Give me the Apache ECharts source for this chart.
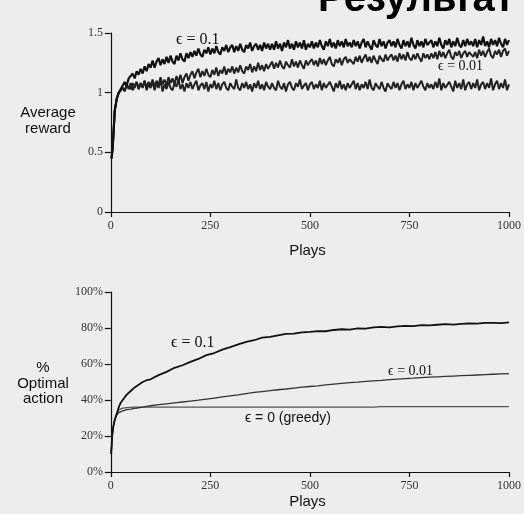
<!DOCTYPE html>
<html>
<head>
<meta charset="utf-8">
<script src="https://cdn.jsdelivr.net/npm/echarts@6/dist/echarts.min.js"></script>
<style>html,body{margin:0;padding:0;background:#ededed;}#c{width:524px;height:514px;}</style>
</head>
<body>
<div id="c"></div>
<script>
// ---------- DATA ----------
// Top panel: average reward vs plays (plays 2, then 5..1000 step 5)
const rewardPlays = [2];
for (let p = 5; p <= 1000; p += 5) rewardPlays.push(p);

const rewardGreedy = [0.45,
0.55,0.85,0.95,1.00,1.02,1.04,1.01,1.07,1.03,1.08,1.02,1.06,1.09,1.03,1.08,1.04,1.10,1.02,1.07,1.04,
1.09,1.02,1.08,1.04,1.11,1.01,1.07,1.03,1.09,1.04,1.02,1.08,1.05,1.11,1.03,1.07,1.01,1.08,1.04,1.09,
1.03,1.07,1.10,1.02,1.06,1.08,1.03,1.09,1.01,1.07,1.04,1.10,1.03,1.08,1.02,1.07,1.09,1.04,1.02,1.08,
1.05,1.03,1.11,1.04,1.02,1.08,1.04,1.09,1.03,1.07,1.01,1.08,1.04,1.10,1.03,1.07,1.02,1.09,1.05,1.03,
1.08,1.04,1.02,1.10,1.05,1.03,1.08,1.01,1.07,1.09,1.04,1.02,1.08,1.05,1.11,1.03,1.06,1.08,1.02,1.07,
1.09,1.03,1.07,1.04,1.10,1.02,1.08,1.04,1.03,1.09,1.05,1.01,1.08,1.04,1.10,1.03,1.07,1.02,1.08,1.04,
1.05,1.10,1.03,1.08,1.02,1.07,1.04,1.09,1.03,1.11,1.04,1.02,1.08,1.05,1.03,1.09,1.04,1.01,1.08,1.05,
1.03,1.09,1.04,1.08,1.02,1.07,1.10,1.03,1.07,1.04,1.09,1.02,1.08,1.04,1.03,1.10,1.05,1.02,1.08,1.04,
1.07,1.03,1.09,1.04,1.12,1.02,1.08,1.04,1.03,1.09,1.05,1.01,1.10,1.04,1.08,1.03,1.11,1.02,1.07,1.09,
1.03,1.08,1.04,1.11,1.02,1.07,1.09,1.03,1.08,1.04,1.12,1.02,1.07,1.10,1.03,1.08,1.04,1.11,1.02,1.07];

const rewardEps001 = [0.45,
0.55,0.85,0.95,1.00,1.02,1.04,1.02,1.06,1.05,1.03,1.08,1.04,1.09,1.03,1.08,1.05,1.10,1.04,1.09,1.06,
1.11,1.05,1.10,1.06,1.13,1.07,1.11,1.06,1.13,1.08,1.12,1.07,1.14,1.09,1.15,1.08,1.13,1.16,1.10,1.15,
1.18,1.12,1.17,1.20,1.13,1.18,1.14,1.20,1.15,1.13,1.19,1.15,1.21,1.14,1.19,1.16,1.22,1.15,1.20,1.17,
1.22,1.16,1.21,1.17,1.23,1.18,1.16,1.22,1.19,1.24,1.17,1.22,1.18,1.25,1.19,1.23,1.18,1.24,1.20,1.23,
1.26,1.20,1.25,1.21,1.27,1.22,1.20,1.26,1.23,1.21,1.28,1.22,1.26,1.21,1.27,1.23,1.20,1.27,1.23,1.26,
1.28,1.23,1.27,1.22,1.29,1.24,1.28,1.23,1.27,1.30,1.24,1.22,1.28,1.25,1.29,1.23,1.28,1.30,1.25,1.28,
1.29,1.24,1.30,1.26,1.31,1.25,1.29,1.32,1.26,1.30,1.25,1.31,1.27,1.24,1.31,1.28,1.26,1.32,1.27,1.30,
1.32,1.27,1.31,1.26,1.33,1.28,1.32,1.27,1.34,1.29,1.27,1.32,1.28,1.33,1.29,1.26,1.33,1.29,1.32,1.28,
1.33,1.29,1.34,1.28,1.35,1.30,1.34,1.29,1.33,1.36,1.30,1.28,1.34,1.31,1.35,1.29,1.33,1.35,1.30,1.34,
1.35,1.30,1.34,1.29,1.36,1.31,1.35,1.30,1.34,1.37,1.31,1.29,1.35,1.32,1.36,1.30,1.35,1.37,1.31,1.35];

const rewardEps01 = [0.45,
0.55,0.85,0.95,1.00,1.03,1.06,1.09,1.06,1.12,1.11,1.16,1.12,1.18,1.15,1.20,1.16,1.22,1.18,1.24,1.21,
1.27,1.21,1.26,1.29,1.23,1.28,1.24,1.30,1.25,1.31,1.26,1.24,1.31,1.27,1.33,1.28,1.26,1.33,1.29,1.34,
1.30,1.35,1.31,1.37,1.32,1.30,1.36,1.33,1.38,1.32,1.37,1.33,1.39,1.34,1.32,1.38,1.35,1.40,1.34,1.38,
1.40,1.34,1.39,1.35,1.41,1.36,1.34,1.40,1.37,1.42,1.35,1.39,1.41,1.36,1.40,1.35,1.42,1.37,1.41,1.36,
1.41,1.36,1.43,1.37,1.41,1.35,1.42,1.38,1.44,1.37,1.41,1.36,1.43,1.38,1.42,1.37,1.44,1.36,1.41,1.38,
1.43,1.37,1.42,1.38,1.44,1.39,1.36,1.43,1.39,1.45,1.38,1.42,1.37,1.44,1.39,1.43,1.38,1.45,1.39,1.42,
1.38,1.44,1.39,1.43,1.37,1.42,1.45,1.38,1.43,1.39,1.36,1.44,1.40,1.38,1.45,1.39,1.43,1.37,1.42,1.44,
1.39,1.43,1.38,1.45,1.40,1.37,1.44,1.39,1.43,1.38,1.46,1.40,1.37,1.44,1.39,1.43,1.38,1.45,1.40,1.39,
1.44,1.38,1.43,1.39,1.46,1.40,1.37,1.44,1.40,1.45,1.38,1.43,1.39,1.46,1.40,1.38,1.44,1.39,1.45,1.40,
1.43,1.39,1.45,1.38,1.44,1.40,1.47,1.39,1.43,1.38,1.45,1.40,1.44,1.39,1.46,1.41,1.38,1.45,1.40,1.44];

// Bottom panel: % optimal action vs plays
const optPlays = [1,2,3,4,5,7,10,13,16,20,25,30,35,40,50,60,70,80,90,100,
120,140,160,180,200,220,240,260,280,300,320,340,360,380,400,420,440,460,480,500,
520,540,560,580,600,620,640,660,680,700,720,740,760,780,800,820,840,860,880,900,
920,940,960,980,1000];

const optEps01 = [10,14,18,21,23,26,29,31,33,36,38.5,40,41.5,43,45,47,48.5,50,51,51.5,
53.8,55.6,57.9,59.3,61.2,62.8,64.9,66.1,68.0,69.4,70.9,72.3,73.2,74.6,75.1,75.9,76.7,76.9,77.6,77.8,
78.3,78.2,78.9,79.3,79.1,79.8,79.7,80.3,80.6,80.4,80.9,81.2,81.0,81.6,81.5,81.8,82.1,81.9,82.3,82.5,
82.4,82.8,82.9,82.7,83.1];

const optEps001 = [10,14,18,21,23,26,29,31,32,33,33.5,34,34.3,34.6,34.9,35.3,35.7,36.1,36.5,36.8,
37.4,37.9,38.4,38.9,39.4,39.9,40.5,41.1,41.7,42.3,42.9,43.6,44.2,44.7,45.2,45.7,46.1,46.6,47.1,47.5,
47.9,48.4,48.8,49.2,49.6,49.9,50.3,50.6,50.9,51.3,51.6,51.9,52.1,52.4,52.7,52.9,53.1,53.3,53.5,53.7,
53.9,54.1,54.3,54.5,54.7];

const optGreedy = [10,14,18,21,23,26,29,31,33,34.5,35.2,35.5,35.7,35.8,35.9,36,36,36,36,36,
36,36,36,36,36,36,36,36,36,36,36,36,36,36,36,36,36,36,36,36,
36,36,36,36,36,36,36,36,36.3,36.3,36.3,36.3,36.3,36.3,36.3,36.3,36.3,36.3,36.3,36.3,
36.3,36.3,36.3,36.3,36.3];

const xTicks = [0, 250, 500, 750, 1000];
const rewardTicks = [0, 0.5, 1, 1.5];
const optTicks = [0, 20, 40, 60, 80, 100];

// ---------- CHART ----------
const pairs = (xs, ys) => xs.map((x, i) => [x, ys[i]]);
const serif = '"Liberation Serif","DejaVu Serif",serif';
const sans = '"Liberation Sans",Arial,sans-serif';

function xAxis(gridIndex, gap) {
  return {
    gridIndex, type: 'value', min: -12, max: 1000,
    name: 'Plays', nameLocation: 'middle', nameGap: gap,
    nameTextStyle: { fontFamily: sans, fontSize: 15, color: '#111' },
    axisLine: { lineStyle: { color: '#111', width: 1.2 } },
    axisTick: { customValues: xTicks, length: 5, lineStyle: { color: '#111', width: 1.2 } },
    axisLabel: { customValues: xTicks, fontFamily: serif, fontSize: 12, color: '#333', margin: 8,
      formatter: v => String(v) },
    splitLine: { show: false }
  };
}
function yAxis(gridIndex, max, interval, ticks, fmt) {
  return {
    gridIndex, type: 'value', min: 0, max, interval,
    axisLine: { show: true, lineStyle: { color: '#111', width: 1.2 } },
    axisTick: { show: true, customValues: ticks, length: 6, lineStyle: { color: '#111', width: 1.2 } },
    axisLabel: { customValues: ticks, fontFamily: serif, fontSize: 12, color: '#333', margin: 3, formatter: fmt },
    splitLine: { show: false }
  };
}
function line(name, xi, yi, data, color, width) {
  return {
    name, type: 'line', xAxisIndex: xi, yAxisIndex: yi, data,
    showSymbol: false, symbol: 'none', animation: false,
    lineStyle: { color, width }
  };
}

const chart = echarts.init(document.getElementById('c'), null, { renderer: 'canvas' });
chart.setOption({
  backgroundColor: '#ededed',
  animation: false,
  grid: [
    { left: 106, width: 409, top: 33, height: 179 },
    { left: 106, width: 409, top: 292, height: 180 }
  ],
  xAxis: [xAxis(0, 31), xAxis(1, 22)],
  yAxis: [
    yAxis(0, 1.5, 0.5, rewardTicks, v => String(v)),
    yAxis(1, 100, 20, optTicks, v => v + '%')
  ],
  series: [
    line('greedy', 0, 0, pairs(rewardPlays, rewardGreedy), '#222', 2),
    line('eps0.01', 0, 0, pairs(rewardPlays, rewardEps001), '#222', 2),
    line('eps0.1', 0, 0, pairs(rewardPlays, rewardEps01), '#111', 2.2),
    line('greedy', 1, 1, pairs(optPlays, optGreedy), '#555', 1.2),
    line('eps0.01', 1, 1, pairs(optPlays, optEps001), '#333', 1.3),
    line('eps0.1', 1, 1, pairs(optPlays, optEps01), '#111', 1.8)
  ],
  graphic: [
    { type: 'text', left: 318, top: -20, style: { text: 'Результат', font: 'bold 40px ' + sans, fill: '#000' } },
    { type: 'text', x: 48, y: 113, style: { text: 'Average', font: '15px ' + sans, fill: '#111', align: 'center', verticalAlign: 'middle' } },
    { type: 'text', x: 48, y: 129, style: { text: 'reward', font: '15px ' + sans, fill: '#111', align: 'center', verticalAlign: 'middle' } },
    { type: 'text', x: 43, y: 368, style: { text: '%', font: '15px ' + sans, fill: '#111', align: 'center', verticalAlign: 'middle' } },
    { type: 'text', x: 43, y: 384, style: { text: 'Optimal', font: '15px ' + sans, fill: '#111', align: 'center', verticalAlign: 'middle' } },
    { type: 'text', x: 43, y: 399, style: { text: 'action', font: '15px ' + sans, fill: '#111', align: 'center', verticalAlign: 'middle' } },
    { type: 'text', x: 176, y: 40, style: { text: 'ϵ = 0.1', font: '16px ' + serif, fill: '#111', verticalAlign: 'middle' } },
    { type: 'text', x: 438, y: 66, style: { text: 'ϵ = 0.01', font: '14px ' + serif, fill: '#111', verticalAlign: 'middle' } },
    { type: 'text', x: 171, y: 343, style: { text: 'ϵ = 0.1', font: '16px ' + serif, fill: '#111', verticalAlign: 'middle' } },
    { type: 'text', x: 388, y: 371, style: { text: 'ϵ = 0.01', font: '14px ' + serif, fill: '#111', verticalAlign: 'middle' } },
    { type: 'text', x: 245, y: 418, style: { text: 'ϵ = 0 (greedy)', font: '14px ' + sans, fill: '#111', verticalAlign: 'middle' } }
  ]
});
</script>
</body>
</html>
